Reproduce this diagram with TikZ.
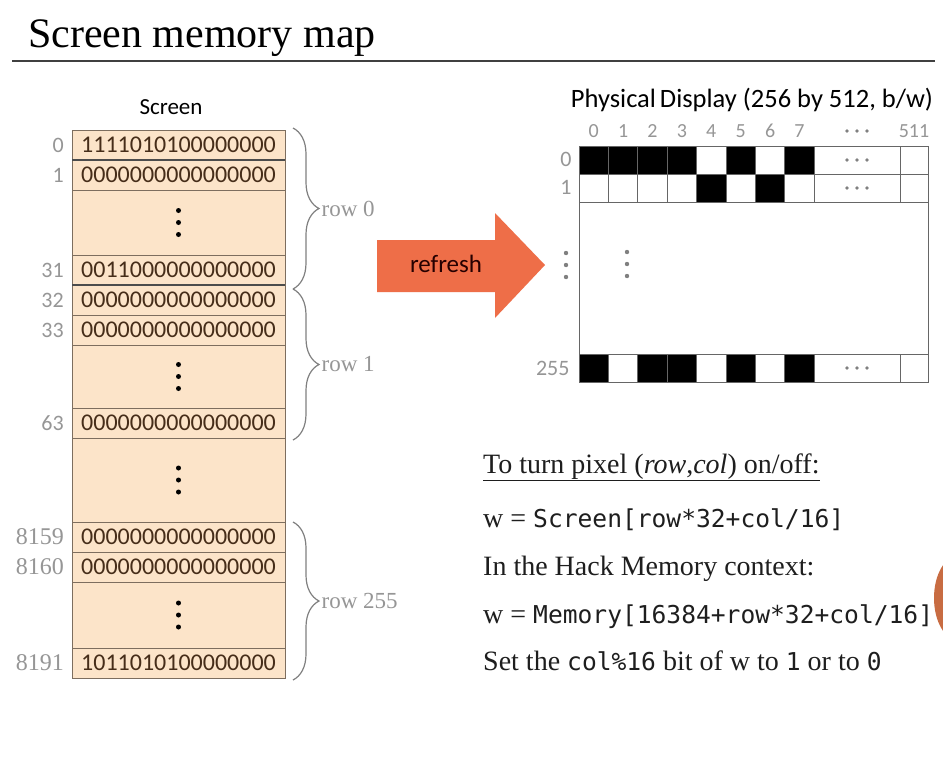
\documentclass[tikz,border=0pt]{standalone}
\usepackage{fontspec}
\setmainfont{Liberation Serif}
\setsansfont{Carlito}
\setmonofont{DejaVu Sans Mono}
\usetikzlibrary{positioning,decorations.pathreplacing}

\definecolor{cellfill}{RGB}{252,228,201}
\definecolor{cellline}{RGB}{125,110,95}
\definecolor{bittext}{RGB}{70,45,25}
\definecolor{labelgray}{RGB}{150,150,150}
\definecolor{arrowfill}{RGB}{238,110,72}
\definecolor{bodytext}{RGB}{30,30,30}
\definecolor{blobfill}{RGB}{200,108,66}
\colorlet{pix1}{black}
\colorlet{pix0}{white}
\newcommand\code[1]{{\ttfamily\fontsize{24.6}{25}\selectfont #1}}

\begin{document}
\begin{tikzpicture}[x=1pt, y=-1pt,
    cell/.style={draw=cellline, line width=1pt, fill=cellfill, minimum width=213, minimum height=30, inner sep=0pt, outer sep=0pt, font=\sffamily\fontsize{24}{24}\selectfont, text=bittext},
    gapcell/.style={cell, minimum height=#1},
    addr/.style={inner sep=1pt, text=labelgray, font=\sffamily\fontsize{22}{22}\selectfont},
    saddr/.style={addr, font=\fontsize{24}{24}\selectfont},
    brace/.style={draw=gray, line width=1.2pt, decorate, decoration={brace, amplitude=26pt}},
    bracelabel/.style={midway, anchor=west, xshift=28pt, inner sep=0pt, text=labelgray, font=\fontsize{23}{23}\selectfont},
    pixcell/.style={draw=gray!80!black, line width=1pt},
    collabel/.style={text=labelgray, font=\sffamily\fontsize{20}{20}\selectfont},
    note/.style={anchor=base west, inner sep=0pt, text=bodytext, font=\fontsize{28}{28}\selectfont},
    vdot/.style={fill=black},
    gdot/.style={fill=gray}
  ]
  \fill[white] (0,0) rectangle (943,764);
  \useasboundingbox (0,0) rectangle (943,764);

  % title and rule
  \node[anchor=base west, inner sep=0pt, font=\fontsize{42}{42}\selectfont] (title) at (28,47) {Screen memory map};
  \draw[line width=2pt, black!75] (12,61) -- (935,61);

  % screen memory column
  \node[font=\sffamily\fontsize{23}{23}\selectfont] (screenlabel) at (171,107) {Screen};
  \node[cell] (m0) at (178.5,145) {1111010100000000};
  \node[cell, below=0pt of m0] (m1) {0000000000000000};
  \node[gapcell=65, below=0pt of m1] (d0) {};
  \node[cell, below=0pt of d0] (m31) {0011000000000000};
  \node[cell, below=0pt of m31] (m32) {0000000000000000};
  \node[cell, below=0pt of m32] (m33) {0000000000000000};
  \node[gapcell=63, below=0pt of m33] (d1) {};
  \node[cell, below=0pt of d1] (m63) {0000000000000000};
  \node[gapcell=84, below=0pt of m63] (dmid) {};
  \node[cell, below=0pt of dmid] (m8159) {0000000000000000};
  \node[cell, below=0pt of m8159] (m8160) {0000000000000000};
  \node[gapcell=66, below=0pt of m8160] (d2) {};
  \node[cell, below=0pt of d2] (m8191) {1011010100000000};

  % heavier separators
  \draw[line width=2pt, black!70] (m0.south west) -- (m0.south east);
  \draw[line width=2pt, black!70] (m31.south west) -- (m31.south east);

  % vertical dots in the gap cells
  \foreach \g in {d0,d1,dmid,d2}
    \foreach \k in {-12,0,12}
      \fill[vdot] ([yshift=\k pt]\g.center) circle (2.5pt);

  % addresses
  \node[addr, left=7pt of m0] (a0) {0};
  \node[addr, left=7pt of m1] (a1) {1};
  \node[addr, left=7pt of m31] (a31) {31};
  \node[addr, left=7pt of m32] (a32) {32};
  \node[addr, left=7pt of m33] (a33) {33};
  \node[addr, left=7pt of m63] (a63) {63};
  \node[saddr, left=7pt of m8159] (a8159) {8159};
  \node[saddr, left=7pt of m8160] (a8160) {8160};
  \node[saddr, left=7pt of m8191] (a8191) {8191};

  % row braces
  \draw[brace] ([xshift=8pt, yshift=2pt]m0.north east) -- ([xshift=8pt, yshift=-4pt]m31.south east) node[bracelabel] (r0) {row 0};
  \draw[brace] ([xshift=8pt, yshift=-4pt]m32.north east) -- ([xshift=8pt, yshift=-2pt]m63.south east) node[bracelabel] (r1) {row 1};
  \draw[brace] ([xshift=8pt]m8159.north east) -- ([xshift=8pt, yshift=-2pt]m8191.south east) node[bracelabel] (r255) {row 255};

  % refresh arrow
  \fill[arrowfill] (377,240) -- (495,240) -- (495,213) -- (545,265) -- (495,318) -- (495,292) -- (377,292) -- cycle;
  \node[text=black!85!red, font=\sffamily\fontsize{25}{25}\selectfont] (refresh) at (446,264) {refresh};

  % physical display
  \node[font=\sffamily\fontsize{26.5}{27}\selectfont] (displabel) at (752,100) {Physical\hspace{-2pt} Display (256 by 512, b/w)};
  \foreach \c in {0,...,7}
    \node[collabel] (c\c) at (593.7+29.4*\c,131) {\c};
  \foreach \k in {-10,0,10}
    \fill[gdot] (857+\k,131) circle (1.8pt);
  \node[collabel] (c511) at (914,131) {511};

  \node[draw=gray!80!black, line width=1pt, minimum width=349, minimum height=236, inner sep=0pt, anchor=north west] (disp) at (579,146) {};
  \foreach \y/\bits in {146/{1,1,1,1,0,1,0,1}, 174/{0,0,0,0,1,0,1,0}, 354/{1,0,1,1,0,1,0,1}} {
    \foreach \b [count=\c from 0] in \bits
      \draw[pixcell, fill=pix\b] (579+29.4*\c,\y) rectangle ++(29.4,28);
    \draw[pixcell] (814.2,\y) rectangle (900,\y+28);
    \draw[pixcell] (900,\y) rectangle (928,\y+28);
    \foreach \k in {-10,0,10}
      \fill[gdot] (857+\k,\y+14) circle (1.8pt);
  }
  \node[collabel, font=\sffamily\fontsize{22}{22}\selectfont] (p0) at (566,159) {0};
  \node[collabel, font=\sffamily\fontsize{22}{22}\selectfont] (p1) at (566,187) {1};
  \node[collabel, font=\sffamily\fontsize{22}{22}\selectfont, anchor=east] (p255) at (573,368) {255};
  \foreach \k in {253,265,277}
    \fill[gdot] (566,\k) circle (2.2pt);
  \foreach \k in {252,264,276}
    \fill[gdot] (627,\k) circle (2.2pt);

  % pixel formula
  \node[note] (turn) at (483,473) {\underline{To turn pixel (\textit{row},\textit{col}) on/off:}};
  \node[note] (wscreen) at (483,527) {w = \code{Screen[row*32+col/16]}};
  \node[note] (hack) at (483,575) {In the Hack Memory context:};
  \node[note] (wmem) at (483,623) {w = \code{Memory[16384+row*32+col/16]}};
  \node[note] (setbit) at (483,670) {Set the \code{col\%16} bit of w to \code{1} or to \code{0}};

  % edge of the speaker overlay
  \begin{scope}
    \clip (0,0) rectangle (943,764);
    \fill[blobfill] (958,598) ellipse (24pt and 42pt);
  \end{scope}
\end{tikzpicture}
\end{document}
